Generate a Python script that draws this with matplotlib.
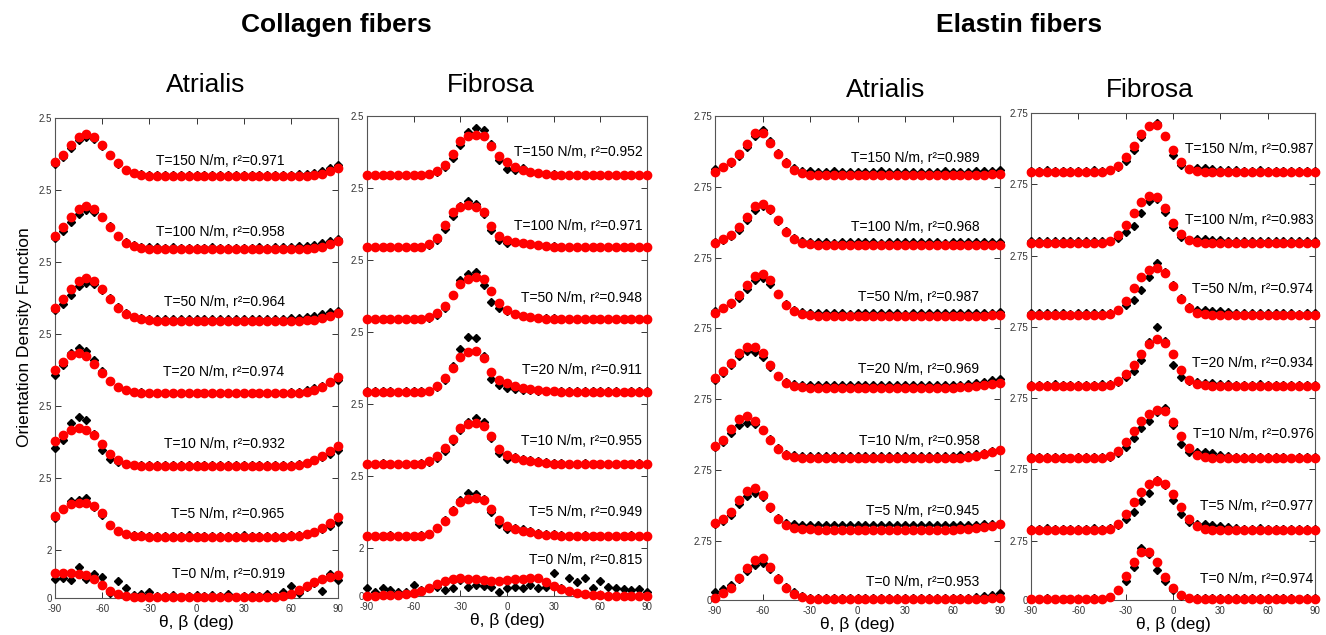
import matplotlib.pyplot as plt

plt.rcParams['font.family'] = ['Liberation Sans', 'DejaVu Sans']
plt.rcParams['axes.unicode_minus'] = False

# angle bins (deg) and applied tension per stacked row (bottom to top)
angles = [-90, -85, -80, -75, -70, -65, -60, -55, -50, -45, -40, -35, -30,
          -25, -20, -15, -10, -5, 0, 5, 10, 15, 20, 25, 30, 35,
          40, 45, 50, 55, 60, 65, 70, 75, 80, 85, 90]
tensions = [0, 5, 10, 20, 50, 100, 150]

# rows are stacked: bottom row is shorter than the others
col_rows = [0, 2, 5, 8, 11, 14, 17]
col_top = 20
col_ylabels = ['0', '2', '2.5', '2.5', '2.5', '2.5', '2.5', '2.5']
ela_rows = [0, 2.5, 5.5, 8.5, 11.5, 14.5, 17.5]
ela_top = 20.5
ela_ylabels = ['0', '2.75', '2.75', '2.75', '2.75', '2.75', '2.75', '2.75']

# ---------------- Collagen fibers, Atrialis ----------------
ca_exp_0 = [0.80, 0.82, 0.76, 1.28, 0.78, 1.00, 0.86, 0.22, 0.70, 0.40, 0.12, 0.15, 0.24,
            0.08, 0.10, 0.14, 0.06, 0.10, 0.14, 0.08, 0.12, 0.10, 0.15, 0.06, 0.10, 0.12,
            0.08, 0.16, 0.10, 0.24, 0.48, 0.22, 0.45, 0.61, 0.28, 1.00, 0.76]
ca_fit_0 = [1.03, 1.04, 1.04, 1.02, 0.96, 0.80, 0.55, 0.30, 0.16, 0.08, 0.05, 0.03, 0.03,
            0.03, 0.03, 0.03, 0.03, 0.03, 0.03, 0.03, 0.03, 0.03, 0.03, 0.03, 0.03, 0.03,
            0.03, 0.03, 0.05, 0.09, 0.18, 0.32, 0.50, 0.66, 0.78, 0.88, 0.96]
ca_exp_5 = [1.32, 1.72, 2.05, 2.08, 2.15, 1.80, 1.45, 1.05, 0.80, 0.68, 0.63, 0.61, 0.60,
            0.60, 0.59, 0.60, 0.60, 0.61, 0.60, 0.60, 0.59, 0.60, 0.60, 0.60, 0.61, 0.60,
            0.60, 0.60, 0.60, 0.60, 0.61, 0.63, 0.68, 0.76, 0.88, 1.02, 1.18]
ca_fit_5 = [1.43, 1.70, 1.90, 1.97, 1.96, 1.85, 1.55, 1.05, 0.78, 0.65, 0.60, 0.57, 0.56,
            0.56, 0.56, 0.56, 0.56, 0.56, 0.56, 0.56, 0.56, 0.56, 0.56, 0.56, 0.56, 0.56,
            0.56, 0.56, 0.56, 0.56, 0.57, 0.60, 0.66, 0.77, 0.92, 1.13, 1.39]
ca_exp_10 = [1.24, 1.60, 2.30, 2.56, 2.40, 1.85, 1.15, 0.80, 0.66, 0.58, 0.55, 0.54, 0.54,
             0.54, 0.53, 0.54, 0.54, 0.55, 0.54, 0.54, 0.53, 0.54, 0.54, 0.54, 0.55, 0.54,
             0.54, 0.54, 0.54, 0.54, 0.55, 0.58, 0.64, 0.74, 0.86, 0.98, 1.17]
ca_fit_10 = [1.56, 1.78, 1.98, 2.07, 2.02, 1.80, 1.40, 1.00, 0.74, 0.60, 0.54, 0.52, 0.51,
             0.51, 0.51, 0.51, 0.51, 0.51, 0.51, 0.51, 0.51, 0.51, 0.51, 0.51, 0.51, 0.51,
             0.51, 0.51, 0.51, 0.51, 0.52, 0.55, 0.62, 0.74, 0.92, 1.12, 1.33]
ca_exp_20 = [1.29, 1.70, 2.20, 2.40, 2.30, 1.90, 1.45, 1.05, 0.80, 0.66, 0.60, 0.57, 0.56,
             0.55, 0.55, 0.56, 0.55, 0.55, 0.54, 0.55, 0.55, 0.56, 0.55, 0.55, 0.55, 0.55,
             0.55, 0.55, 0.56, 0.56, 0.57, 0.60, 0.66, 0.74, 0.85, 0.98, 1.10]
ca_fit_20 = [1.50, 1.85, 2.12, 2.20, 2.08, 1.77, 1.39, 1.04, 0.79, 0.65, 0.58, 0.55, 0.54,
             0.53, 0.53, 0.53, 0.53, 0.53, 0.53, 0.53, 0.53, 0.53, 0.53, 0.53, 0.53, 0.53,
             0.53, 0.53, 0.53, 0.53, 0.54, 0.56, 0.60, 0.68, 0.80, 0.98, 1.22]
ca_exp_50 = [0.98, 1.25, 1.62, 1.98, 2.14, 2.08, 1.85, 1.48, 1.12, 0.86, 0.72, 0.66, 0.64,
             0.63, 0.62, 0.62, 0.61, 0.62, 0.62, 0.63, 0.62, 0.61, 0.62, 0.62, 0.62, 0.62,
             0.62, 0.63, 0.63, 0.64, 0.66, 0.68, 0.71, 0.76, 0.82, 0.90, 0.97]
ca_fit_50 = [1.07, 1.46, 1.88, 2.22, 2.35, 2.22, 1.88, 1.46, 1.09, 0.83, 0.69, 0.61, 0.58,
             0.56, 0.56, 0.56, 0.56, 0.56, 0.56, 0.56, 0.56, 0.56, 0.56, 0.56, 0.56, 0.56,
             0.56, 0.56, 0.56, 0.56, 0.56, 0.56, 0.57, 0.60, 0.66, 0.76, 0.89]
ca_exp_100 = [1.00, 1.30, 1.68, 2.02, 2.17, 2.10, 1.86, 1.48, 1.10, 0.84, 0.70, 0.64, 0.62,
              0.61, 0.60, 0.61, 0.60, 0.60, 0.59, 0.60, 0.61, 0.60, 0.60, 0.59, 0.60, 0.60,
              0.61, 0.60, 0.61, 0.62, 0.63, 0.65, 0.68, 0.72, 0.78, 0.86, 0.95]
ca_fit_100 = [1.08, 1.46, 1.87, 2.20, 2.33, 2.20, 1.87, 1.46, 1.08, 0.81, 0.66, 0.58, 0.55,
              0.53, 0.53, 0.53, 0.53, 0.53, 0.53, 0.53, 0.53, 0.53, 0.53, 0.53, 0.53, 0.53,
              0.53, 0.53, 0.53, 0.53, 0.53, 0.53, 0.54, 0.57, 0.63, 0.74, 0.89]
ca_exp_150 = [1.10, 1.38, 1.75, 2.08, 2.20, 2.12, 1.85, 1.45, 1.08, 0.85, 0.72, 0.66, 0.64,
              0.63, 0.62, 0.62, 0.63, 0.62, 0.62, 0.61, 0.62, 0.62, 0.62, 0.63, 0.62, 0.62,
              0.62, 0.62, 0.62, 0.63, 0.64, 0.65, 0.68, 0.72, 0.80, 0.90, 1.04]
ca_fit_150 = [1.15, 1.47, 1.87, 2.20, 2.32, 2.20, 1.87, 1.47, 1.11, 0.85, 0.70, 0.63, 0.60,
              0.58, 0.58, 0.58, 0.58, 0.58, 0.58, 0.58, 0.58, 0.58, 0.58, 0.58, 0.58, 0.58,
              0.58, 0.58, 0.58, 0.58, 0.58, 0.58, 0.59, 0.62, 0.68, 0.78, 0.92]
ca_r2 = ['0.919', '0.965', '0.932', '0.974', '0.964', '0.958', '0.971']

# ---------------- Collagen fibers, Fibrosa ----------------
cf_exp_0 = [0.35, 0.18, 0.32, 0.25, 0.18, 0.18, 0.46, 0.25, 0.35, 0.39, 0.25, 0.35, 0.67,
            0.39, 0.46, 0.43, 0.39, 0.18, 0.32, 0.39, 0.32, 0.46, 0.32, 0.36, 0.94, 0.32,
            0.76, 0.60, 0.74, 0.32, 0.63, 0.39, 0.32, 0.30, 0.25, 0.30, 0.18]
cf_fit_0 = [0.02, 0.02, 0.03, 0.04, 0.06, 0.09, 0.14, 0.22, 0.35, 0.52, 0.64, 0.72, 0.74,
            0.72, 0.69, 0.66, 0.64, 0.64, 0.66, 0.69, 0.72, 0.74, 0.74, 0.58, 0.42, 0.30,
            0.21, 0.13, 0.08, 0.05, 0.03, 0.02, 0.02, 0.02, 0.02, 0.02, 0.02]
cf_exp_5 = [0.52, 0.52, 0.52, 0.53, 0.52, 0.52, 0.52, 0.53, 0.60, 0.85, 1.15, 1.60, 2.00,
            2.28, 2.24, 2.05, 1.50, 1.00, 0.78, 0.85, 0.80, 0.70, 0.64, 0.60, 0.57, 0.55,
            0.52, 0.52, 0.53, 0.52, 0.52, 0.52, 0.52, 0.52, 0.53, 0.52, 0.52]
cf_fit_5 = [0.50, 0.50, 0.50, 0.50, 0.50, 0.50, 0.50, 0.50, 0.60, 0.82, 1.12, 1.55, 1.92,
            2.05, 2.07, 2.00, 1.62, 1.16, 0.90, 0.78, 0.70, 0.65, 0.60, 0.56, 0.53, 0.51,
            0.50, 0.50, 0.50, 0.50, 0.50, 0.50, 0.50, 0.50, 0.50, 0.50, 0.50]
cf_exp_10 = [0.52, 0.52, 0.53, 0.52, 0.52, 0.51, 0.52, 0.53, 0.58, 0.75, 1.05, 1.45, 1.90,
             2.25, 2.40, 2.25, 1.57, 0.95, 0.70, 0.78, 0.72, 0.66, 0.62, 0.58, 0.56, 0.54,
             0.52, 0.52, 0.53, 0.52, 0.52, 0.52, 0.51, 0.52, 0.52, 0.53, 0.52]
cf_fit_10 = [0.50, 0.50, 0.50, 0.50, 0.50, 0.50, 0.50, 0.50, 0.62, 0.85, 1.15, 1.55, 2.00,
             2.17, 2.19, 2.08, 1.68, 1.12, 0.86, 0.74, 0.68, 0.63, 0.58, 0.55, 0.52, 0.51,
             0.50, 0.50, 0.50, 0.50, 0.50, 0.50, 0.50, 0.50, 0.50, 0.50, 0.50]
cf_exp_20 = [0.53, 0.53, 0.54, 0.53, 0.52, 0.53, 0.53, 0.53, 0.56, 0.70, 1.00, 1.60, 2.30,
             2.78, 2.75, 2.00, 1.05, 0.80, 0.68, 0.62, 0.60, 0.58, 0.56, 0.55, 0.54, 0.54,
             0.53, 0.53, 0.53, 0.54, 0.53, 0.53, 0.53, 0.52, 0.53, 0.53, 0.53]
cf_fit_20 = [0.51, 0.51, 0.51, 0.51, 0.51, 0.51, 0.51, 0.51, 0.56, 0.75, 1.10, 1.50, 1.95,
             2.18, 2.22, 1.90, 1.35, 1.00, 0.86, 0.74, 0.67, 0.62, 0.58, 0.55, 0.53, 0.52,
             0.51, 0.51, 0.51, 0.51, 0.51, 0.51, 0.51, 0.51, 0.51, 0.51, 0.51]
cf_exp_50 = [0.55, 0.55, 0.54, 0.55, 0.56, 0.55, 0.55, 0.55, 0.60, 0.72, 1.00, 1.55, 2.15,
             2.40, 2.52, 1.95, 1.26, 0.98, 0.88, 0.75, 0.68, 0.63, 0.60, 0.58, 0.57, 0.56,
             0.55, 0.56, 0.55, 0.55, 0.55, 0.54, 0.55, 0.55, 0.56, 0.55, 0.55]
cf_fit_50 = [0.53, 0.53, 0.53, 0.53, 0.53, 0.53, 0.53, 0.53, 0.62, 0.78, 1.10, 1.55, 2.02,
             2.20, 2.31, 2.20, 1.72, 1.22, 0.92, 0.76, 0.68, 0.63, 0.59, 0.56, 0.54, 0.53,
             0.53, 0.53, 0.53, 0.53, 0.53, 0.53, 0.53, 0.53, 0.53, 0.53, 0.53]
cf_exp_100 = [0.55, 0.55, 0.56, 0.55, 0.55, 0.54, 0.55, 0.56, 0.62, 0.82, 1.30, 1.85, 2.25,
              2.47, 2.35, 1.90, 1.25, 0.85, 0.72, 0.74, 0.72, 0.68, 0.64, 0.60, 0.58, 0.56,
              0.55, 0.55, 0.55, 0.56, 0.55, 0.55, 0.54, 0.55, 0.55, 0.55, 0.56]
cf_fit_100 = [0.53, 0.53, 0.53, 0.53, 0.53, 0.53, 0.53, 0.53, 0.66, 0.92, 1.45, 1.98, 2.22,
              2.29, 2.20, 1.98, 1.40, 1.00, 0.82, 0.75, 0.70, 0.66, 0.62, 0.58, 0.55, 0.54,
              0.53, 0.53, 0.53, 0.53, 0.53, 0.53, 0.53, 0.53, 0.53, 0.53, 0.53]
cf_exp_150 = [0.55, 0.56, 0.55, 0.55, 0.54, 0.55, 0.56, 0.55, 0.58, 0.66, 0.88, 1.25, 1.80,
              2.35, 2.49, 2.42, 1.82, 1.15, 0.80, 0.75, 0.82, 0.68, 0.62, 0.59, 0.57, 0.56,
              0.55, 0.55, 0.56, 0.55, 0.55, 0.55, 0.54, 0.55, 0.55, 0.56, 0.55]
cf_fit_150 = [0.53, 0.53, 0.53, 0.53, 0.53, 0.53, 0.53, 0.53, 0.58, 0.72, 0.95, 1.40, 1.95,
              2.15, 2.21, 2.18, 1.75, 1.33, 1.08, 0.88, 0.76, 0.67, 0.61, 0.57, 0.55, 0.54,
              0.53, 0.53, 0.53, 0.53, 0.53, 0.53, 0.53, 0.53, 0.53, 0.53, 0.53]
cf_r2 = ['0.815', '0.949', '0.955', '0.911', '0.948', '0.971', '0.952']

# ---------------- Elastin fibers, Atrialis ----------------
ea_exp_0 = [0.36, 0.48, 0.62, 0.88, 1.22, 1.50, 1.56, 1.30, 0.92, 0.56, 0.32, 0.16, 0.10,
            0.08, 0.08, 0.09, 0.08, 0.08, 0.07, 0.08, 0.08, 0.09, 0.08, 0.08, 0.08, 0.08,
            0.08, 0.08, 0.09, 0.08, 0.08, 0.09, 0.10, 0.12, 0.17, 0.22, 0.28]
ea_fit_0 = [0.10, 0.28, 0.52, 0.92, 1.35, 1.70, 1.76, 1.38, 0.88, 0.52, 0.26, 0.11, 0.05,
            0.03, 0.03, 0.03, 0.03, 0.03, 0.03, 0.03, 0.03, 0.03, 0.03, 0.03, 0.03, 0.03,
            0.03, 0.03, 0.03, 0.03, 0.03, 0.03, 0.03, 0.04, 0.05, 0.07, 0.10]
ea_exp_5 = [0.71, 0.85, 1.08, 1.55, 1.92, 2.02, 1.85, 1.40, 0.98, 0.76, 0.70, 0.68, 0.67,
            0.67, 0.67, 0.66, 0.67, 0.67, 0.68, 0.67, 0.67, 0.66, 0.67, 0.67, 0.67, 0.67,
            0.67, 0.67, 0.66, 0.67, 0.67, 0.67, 0.68, 0.69, 0.70, 0.72, 0.74]
ea_fit_5 = [0.78, 0.95, 1.22, 1.74, 2.12, 2.23, 1.95, 1.45, 0.95, 0.68, 0.56, 0.50, 0.49,
            0.48, 0.48, 0.48, 0.48, 0.48, 0.48, 0.48, 0.48, 0.48, 0.48, 0.48, 0.48, 0.48,
            0.48, 0.48, 0.48, 0.48, 0.48, 0.49, 0.51, 0.54, 0.58, 0.63, 0.70]
ea_exp_10 = [0.97, 1.20, 1.58, 1.92, 1.99, 1.95, 1.70, 1.30, 0.92, 0.70, 0.63, 0.61, 0.60,
             0.60, 0.61, 0.60, 0.60, 0.60, 0.59, 0.60, 0.60, 0.60, 0.61, 0.60, 0.60, 0.60,
             0.60, 0.60, 0.60, 0.60, 0.61, 0.63, 0.66, 0.70, 0.74, 0.79, 0.85]
ea_fit_10 = [1.02, 1.28, 1.75, 2.15, 2.28, 2.10, 1.70, 1.28, 0.88, 0.64, 0.54, 0.51, 0.50,
             0.50, 0.50, 0.50, 0.50, 0.50, 0.50, 0.50, 0.50, 0.50, 0.50, 0.50, 0.50, 0.50,
             0.50, 0.50, 0.50, 0.50, 0.51, 0.53, 0.56, 0.61, 0.67, 0.75, 0.85]
ea_exp_20 = [0.82, 1.10, 1.45, 1.85, 2.06, 2.00, 1.80, 1.38, 0.98, 0.74, 0.64, 0.61, 0.60,
             0.60, 0.60, 0.61, 0.60, 0.60, 0.59, 0.60, 0.60, 0.61, 0.60, 0.60, 0.60, 0.60,
             0.60, 0.61, 0.60, 0.60, 0.60, 0.62, 0.66, 0.70, 0.75, 0.82, 0.88]
ea_fit_20 = [0.90, 1.20, 1.55, 1.95, 2.22, 2.22, 1.95, 1.45, 1.00, 0.70, 0.56, 0.52, 0.50,
             0.50, 0.50, 0.50, 0.50, 0.50, 0.50, 0.50, 0.50, 0.50, 0.50, 0.50, 0.50, 0.50,
             0.50, 0.50, 0.50, 0.50, 0.50, 0.51, 0.53, 0.56, 0.60, 0.65, 0.71]
ea_exp_50 = [0.74, 0.86, 1.02, 1.30, 1.68, 2.05, 2.13, 1.90, 1.45, 1.02, 0.78, 0.68, 0.65,
             0.64, 0.64, 0.65, 0.64, 0.63, 0.64, 0.64, 0.65, 0.64, 0.64, 0.64, 0.63, 0.64,
             0.64, 0.65, 0.64, 0.64, 0.64, 0.65, 0.64, 0.65, 0.65, 0.67, 0.70]
ea_fit_50 = [0.64, 0.85, 1.08, 1.40, 1.85, 2.22, 2.30, 2.06, 1.48, 1.00, 0.72, 0.60, 0.56,
             0.54, 0.54, 0.54, 0.54, 0.54, 0.54, 0.54, 0.54, 0.54, 0.54, 0.54, 0.54, 0.54,
             0.54, 0.54, 0.54, 0.54, 0.54, 0.54, 0.54, 0.54, 0.55, 0.56, 0.57]
ea_exp_100 = [0.68, 0.75, 0.90, 1.18, 1.58, 2.00, 2.18, 2.00, 1.55, 1.12, 0.85, 0.70, 0.66,
              0.65, 0.65, 0.64, 0.65, 0.65, 0.66, 0.65, 0.65, 0.64, 0.65, 0.65, 0.65, 0.66,
              0.65, 0.65, 0.65, 0.64, 0.65, 0.65, 0.65, 0.66, 0.66, 0.67, 0.68]
ea_fit_100 = [0.61, 0.78, 0.96, 1.28, 1.72, 2.18, 2.28, 2.05, 1.60, 1.08, 0.78, 0.62, 0.57,
              0.55, 0.55, 0.55, 0.55, 0.55, 0.55, 0.55, 0.55, 0.55, 0.55, 0.55, 0.55, 0.55,
              0.55, 0.55, 0.55, 0.55, 0.55, 0.55, 0.55, 0.55, 0.55, 0.55, 0.54]
ea_exp_150 = [0.74, 0.85, 1.00, 1.30, 1.70, 2.15, 2.40, 1.95, 1.45, 1.05, 0.80, 0.68, 0.65,
              0.64, 0.64, 0.65, 0.64, 0.64, 0.63, 0.64, 0.64, 0.65, 0.64, 0.64, 0.64, 0.63,
              0.64, 0.64, 0.64, 0.65, 0.64, 0.64, 0.64, 0.65, 0.65, 0.67, 0.70]
ea_fit_150 = [0.64, 0.84, 1.05, 1.40, 1.80, 2.26, 2.26, 1.85, 1.40, 1.00, 0.72, 0.57, 0.52,
              0.50, 0.50, 0.50, 0.50, 0.50, 0.50, 0.50, 0.50, 0.50, 0.50, 0.50, 0.50, 0.50,
              0.50, 0.50, 0.50, 0.50, 0.50, 0.50, 0.50, 0.50, 0.51, 0.53, 0.55]
ea_r2 = ['0.953', '0.945', '0.958', '0.969', '0.987', '0.968', '0.989']

# ---------------- Elastin fibers, Fibrosa ----------------
ef_exp_0 = [0.06, 0.06, 0.07, 0.06, 0.06, 0.05, 0.06, 0.06, 0.07, 0.06, 0.14, 0.40, 0.80,
            1.40, 2.20, 1.95, 1.28, 0.80, 0.40, 0.16, 0.10, 0.10, 0.09, 0.08, 0.08, 0.08,
            0.07, 0.08, 0.07, 0.07, 0.08, 0.07, 0.07, 0.07, 0.06, 0.07, 0.07]
ef_fit_0 = [0.03, 0.03, 0.03, 0.03, 0.03, 0.03, 0.03, 0.03, 0.03, 0.03, 0.12, 0.42, 1.00,
            1.62, 2.02, 2.00, 1.58, 0.95, 0.50, 0.22, 0.08, 0.04, 0.03, 0.03, 0.03, 0.03,
            0.03, 0.03, 0.03, 0.03, 0.03, 0.03, 0.03, 0.03, 0.03, 0.03, 0.03]
ef_exp_5 = [0.50, 0.50, 0.51, 0.50, 0.50, 0.50, 0.49, 0.50, 0.51, 0.50, 0.53, 0.64, 0.90,
            1.22, 1.68, 2.00, 2.56, 2.35, 1.70, 1.10, 0.78, 0.72, 0.70, 0.66, 0.62, 0.58,
            0.54, 0.50, 0.50, 0.51, 0.50, 0.50, 0.50, 0.50, 0.49, 0.50, 0.50]
ef_fit_5 = [0.43, 0.43, 0.43, 0.43, 0.43, 0.43, 0.43, 0.43, 0.43, 0.43, 0.50, 0.70, 1.12,
            1.62, 2.05, 2.38, 2.49, 2.40, 1.98, 1.40, 0.90, 0.62, 0.50, 0.45, 0.43, 0.43,
            0.43, 0.43, 0.43, 0.43, 0.43, 0.43, 0.43, 0.43, 0.43, 0.43, 0.43]
ef_exp_10 = [0.50, 0.50, 0.51, 0.50, 0.50, 0.49, 0.50, 0.50, 0.51, 0.50, 0.54, 0.68, 0.95,
             1.32, 1.72, 2.05, 2.40, 2.59, 1.85, 1.05, 0.75, 0.72, 0.71, 0.68, 0.62, 0.56,
             0.52, 0.50, 0.50, 0.51, 0.50, 0.50, 0.50, 0.49, 0.50, 0.50, 0.50]
ef_fit_10 = [0.46, 0.46, 0.46, 0.46, 0.46, 0.46, 0.46, 0.46, 0.46, 0.46, 0.55, 0.78, 1.15,
             1.62, 2.05, 2.35, 2.48, 2.45, 2.00, 1.40, 0.90, 0.62, 0.52, 0.48, 0.46, 0.46,
             0.46, 0.46, 0.46, 0.46, 0.46, 0.46, 0.46, 0.46, 0.46, 0.46, 0.46]
ef_exp_20 = [0.57, 0.57, 0.57, 0.58, 0.57, 0.57, 0.56, 0.57, 0.57, 0.58, 0.59, 0.66, 0.88,
             1.15, 1.60, 2.35, 2.99, 2.40, 1.40, 0.90, 0.70, 0.66, 0.64, 0.62, 0.60, 0.58,
             0.57, 0.57, 0.57, 0.58, 0.57, 0.57, 0.57, 0.56, 0.57, 0.57, 0.57]
ef_fit_20 = [0.50, 0.50, 0.50, 0.50, 0.50, 0.50, 0.50, 0.50, 0.50, 0.50, 0.56, 0.72, 1.00,
             1.40, 1.85, 2.28, 2.49, 2.30, 1.85, 1.20, 0.78, 0.60, 0.53, 0.51, 0.50, 0.50,
             0.50, 0.50, 0.50, 0.50, 0.50, 0.50, 0.50, 0.50, 0.50, 0.50, 0.50]
ef_exp_50 = [0.57, 0.57, 0.58, 0.57, 0.57, 0.56, 0.57, 0.58, 0.57, 0.57, 0.60, 0.70, 0.90,
             1.14, 1.55, 2.10, 2.70, 2.30, 1.75, 1.20, 0.82, 0.72, 0.70, 0.68, 0.65, 0.62,
             0.60, 0.58, 0.57, 0.57, 0.58, 0.57, 0.57, 0.57, 0.56, 0.57, 0.57]
ef_fit_50 = [0.50, 0.50, 0.50, 0.50, 0.50, 0.50, 0.50, 0.50, 0.50, 0.50, 0.55, 0.72, 1.10,
             1.62, 2.10, 2.38, 2.49, 2.25, 1.70, 1.15, 0.78, 0.60, 0.53, 0.51, 0.50, 0.50,
             0.50, 0.50, 0.50, 0.50, 0.50, 0.50, 0.50, 0.50, 0.50, 0.50, 0.50]
ef_exp_100 = [0.61, 0.61, 0.62, 0.61, 0.61, 0.60, 0.61, 0.61, 0.62, 0.61, 0.63, 0.74, 0.98,
              1.25, 1.78, 2.30, 2.39, 1.85, 1.20, 0.80, 0.66, 0.68, 0.68, 0.66, 0.64, 0.62,
              0.61, 0.61, 0.62, 0.61, 0.61, 0.61, 0.60, 0.61, 0.61, 0.62, 0.61]
ef_fit_100 = [0.51, 0.51, 0.51, 0.51, 0.51, 0.51, 0.51, 0.51, 0.51, 0.51, 0.60, 0.85, 1.28,
              1.80, 2.25, 2.50, 2.48, 2.00, 1.38, 0.90, 0.64, 0.55, 0.52, 0.51, 0.51, 0.51,
              0.51, 0.51, 0.51, 0.51, 0.51, 0.51, 0.51, 0.51, 0.51, 0.51, 0.51]
ef_exp_150 = [0.57, 0.57, 0.58, 0.57, 0.57, 0.56, 0.57, 0.57, 0.58, 0.57, 0.60, 0.72, 1.00,
              1.45, 1.98, 2.45, 2.58, 2.05, 1.25, 0.80, 0.66, 0.70, 0.68, 0.66, 0.62, 0.60,
              0.58, 0.57, 0.57, 0.58, 0.57, 0.57, 0.57, 0.56, 0.57, 0.57, 0.57]
ef_fit_150 = [0.50, 0.50, 0.50, 0.50, 0.50, 0.50, 0.50, 0.50, 0.50, 0.50, 0.58, 0.78, 1.15,
              1.62, 2.12, 2.45, 2.50, 2.05, 1.45, 0.95, 0.66, 0.55, 0.52, 0.51, 0.50, 0.50,
              0.50, 0.50, 0.50, 0.50, 0.50, 0.50, 0.50, 0.50, 0.50, 0.50, 0.50]
ef_r2 = ['0.974', '0.977', '0.976', '0.934', '0.974', '0.983', '0.987']

W, H = 1326, 635


def rect(left, top, right, bottom):
    # pixel box -> figure fraction
    return [left / W, 1 - bottom / H, (right - left) / W, (bottom - top) / H]


panels = [
    dict(exp=[ca_exp_0, ca_exp_5, ca_exp_10, ca_exp_20, ca_exp_50, ca_exp_100, ca_exp_150],
         fit=[ca_fit_0, ca_fit_5, ca_fit_10, ca_fit_20, ca_fit_50, ca_fit_100, ca_fit_150],
         r2=ca_r2, box=rect(55, 118, 338, 598), rows=col_rows, top=col_top,
         ylabels=col_ylabels, tx=56, ty=[1.0, 1.5, 1.4, 1.4, 1.33, 1.25, 1.2]),
    dict(exp=[cf_exp_0, cf_exp_5, cf_exp_10, cf_exp_20, cf_exp_50, cf_exp_100, cf_exp_150],
         fit=[cf_fit_0, cf_fit_5, cf_fit_10, cf_fit_20, cf_fit_50, cf_fit_100, cf_fit_150],
         r2=cf_r2, box=rect(367, 116, 647, 596), rows=col_rows, top=col_top,
         ylabels=col_ylabels, tx=87, ty=[1.5, 1.5, 1.45, 1.4, 1.4, 1.4, 1.5]),
    dict(exp=[ea_exp_0, ea_exp_5, ea_exp_10, ea_exp_20, ea_exp_50, ea_exp_100, ea_exp_150],
         fit=[ea_fit_0, ea_fit_5, ea_fit_10, ea_fit_20, ea_fit_50, ea_fit_100, ea_fit_150],
         r2=ea_r2, box=rect(715, 116, 1000, 600), rows=ela_rows, top=ela_top,
         ylabels=ela_ylabels, tx=77, ty=[0.78, 1.28, 1.25, 1.28, 1.34, 1.28, 1.21]),
    dict(exp=[ef_exp_0, ef_exp_5, ef_exp_10, ef_exp_20, ef_exp_50, ef_exp_100, ef_exp_150],
         fit=[ef_fit_0, ef_fit_5, ef_fit_10, ef_fit_20, ef_fit_50, ef_fit_100, ef_fit_150],
         r2=ef_r2, box=rect(1031, 113, 1315, 600), rows=ela_rows, top=ela_top,
         ylabels=ela_ylabels, tx=89, ty=[0.88, 1.47, 1.49, 1.47, 1.59, 1.51, 1.49]),
]

fig = plt.figure(figsize=(W / 100, H / 100), dpi=100)

for p in panels:
    ax = fig.add_axes(p['box'])
    for k, t in enumerate(tensions):
        base = p['rows'][k]
        ax.plot(angles, [base + v for v in p['exp'][k]], 'D', color='black',
                ms=4.2, clip_on=False, zorder=3)
        ax.plot(angles, [base + v for v in p['fit'][k]], 'o', color='#ff0000',
                ms=6.0, clip_on=False, zorder=4)
        ax.text(p['tx'], base + p['ty'][k], f"T={t} N/m, r\u00b2={p['r2'][k]}",
                ha='right', va='center', fontsize=10, zorder=5)
    ax.set_xlim(-90, 90)
    ax.set_ylim(0, p['top'])
    ax.set_xticks([-90, -60, -30, 0, 30, 60, 90])
    ax.set_yticks(p['rows'] + [p['top']])
    ax.set_yticklabels(p['ylabels'])
    ax.tick_params(direction='in', top=True, right=True, length=4, width=0.7,
                   labelsize=7, colors='#333333')
    ax.tick_params(axis='x', pad=4)
    ax.tick_params(axis='y', pad=2)
    for s in ax.spines.values():
        s.set_color('#555555')
        s.set_linewidth(0.8)
    ax.set_xlabel('\u03b8, \u03b2 (deg)', fontsize=12.5, labelpad=1)

fig.text(25 / W, 1 - 337 / H, 'Orientation Density Function', rotation=90,
         fontsize=12.5, ha='center', va='center')

fig.text(336 / W, 1 - 25 / H, 'Collagen fibers', fontsize=19, fontweight='bold',
         ha='center', va='center')
fig.text(1019 / W, 1 - 25 / H, 'Elastin fibers', fontsize=19, fontweight='bold',
         ha='center', va='center')
fig.text(206 / W, 1 - 85 / H, 'Atrialis', fontsize=19, ha='center', va='center')
fig.text(491 / W, 1 - 85 / H, 'Fibrosa', fontsize=19, ha='center', va='center')
fig.text(886 / W, 1 - 90 / H, 'Atrialis', fontsize=19, ha='center', va='center')
fig.text(1150 / W, 1 - 90 / H, 'Fibrosa', fontsize=19, ha='center', va='center')

fig.savefig('out.png', dpi=100)
plt.close(fig)
